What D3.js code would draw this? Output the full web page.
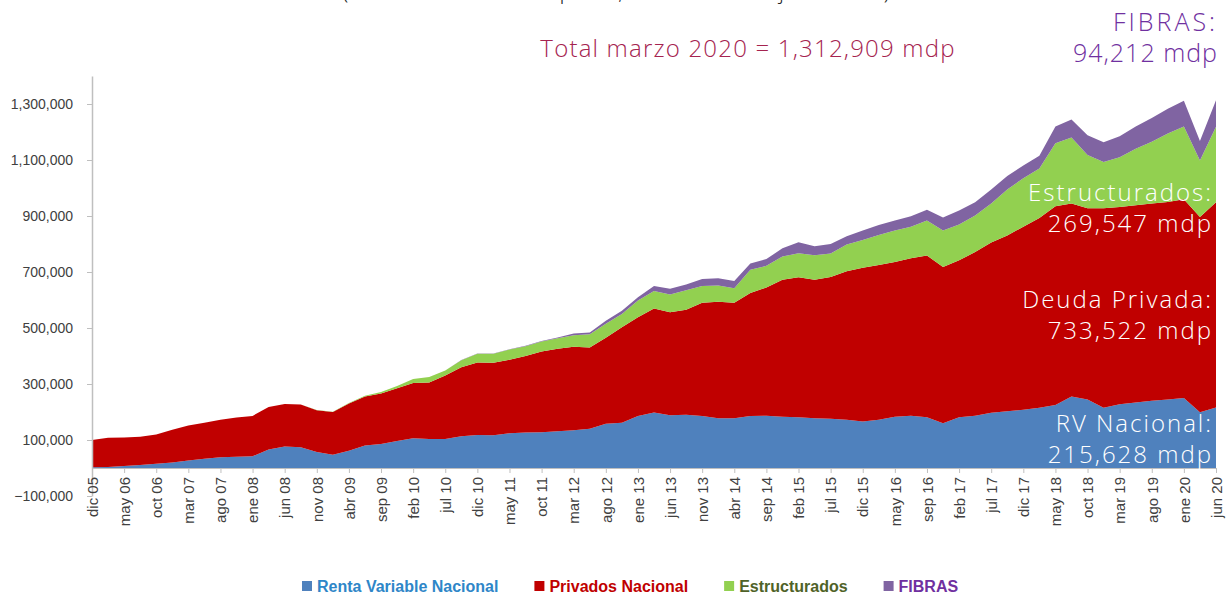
<!DOCTYPE html>
<html>
<head>
<meta charset="utf-8">
<script src="https://cdn.jsdelivr.net/npm/d3@7"></script>
<style>
body { margin: 0; background: #fff; overflow: hidden; }
</style>
</head>
<body>
<div id="chart"></div>
<script>
// category axis labels, one every 5 months
const tickLabels = ["dic 05", "may 06", "oct 06", "mar 07", "ago 07", "ene 08", "jun 08", "nov 08", "abr 09", "sep 09",
    "feb 10", "jul 10", "dic 10", "may 11", "oct 11", "mar 12", "ago 12", "ene 13", "jun 13", "nov 13",
    "abr 14", "sep 14", "feb 15", "jul 15", "dic 15", "may 16", "sep 16", "feb 17", "jul 17", "dic 17",
    "may 18", "oct 18", "mar 19", "ago 19", "ene 20", "jun 20"];

// values in thousands of mdp, read twice per label interval
const rentaVariable = [3, 4, 7, 11, 15, 20, 27, 33, 38, 40,
    42, 66, 77, 74, 57, 47, 62, 80, 86, 96,
    106, 104, 104, 113, 118, 117, 124, 127, 128, 131,
    135, 140, 158, 162, 186, 198, 188, 190, 186, 178,
    178, 186, 187, 183, 181, 178, 176, 172, 166, 172,
    183, 187, 181, 160, 181, 187, 197, 203, 208, 215,
    225, 255, 245, 215, 228, 234, 240, 245, 250, 199,
    216];
const privados = [97, 104, 102, 101, 105, 117, 125, 129, 134, 140,
    144, 152, 152, 153, 149, 153, 168, 175, 180, 189,
    198, 201, 226, 247, 259, 259, 263, 273, 288, 295,
    298, 290, 307, 341, 352, 372, 368, 375, 404, 416,
    412, 439, 458, 489, 500, 494, 506, 531, 549, 553,
    553, 562, 578, 558, 561, 584, 608, 627, 654, 678,
    710, 690, 683, 713, 704, 704, 705, 705, 710, 697,
    733];
const estructurados = [0, 0, 0, 0, 0, 0, 0, 0, 0, 0,
    0, 0, 0, 0, 1, 1, 2, 3, 5, 8,
    14, 20, 18, 25, 31, 32, 36, 35, 36, 37,
    41, 48, 50, 47, 60, 62, 64, 70, 60, 58,
    52, 83, 77, 83, 86, 88, 84, 95, 99, 107,
    112, 113, 125, 130, 128, 131, 140, 165, 173, 177,
    225, 235, 190, 165, 178, 202, 220, 245, 260, 202,
    270];
const fibras = [0, 0, 0, 0, 0, 0, 0, 0, 0, 0,
    0, 0, 0, 0, 0, 0, 0, 0, 0, 0,
    0, 0, 0, 1, 1, 1, 1, 2, 2, 3,
    6, 6, 11, 12, 12, 18, 20, 20, 25, 26,
    26, 22, 24, 30, 39, 32, 34, 30, 34, 36,
    36, 37, 38, 47, 50, 47, 50, 48, 45, 45,
    60, 65, 70, 70, 75, 80, 85, 88, 92, 70,
    94];

const seriesNames = ["Renta Variable Nacional", "Privados Nacional", "Estructurados", "FIBRAS"];
const seriesColors = ["#4F81BD", "#C00000", "#92D050", "#8064A2"];
const legendTextColors = ["#2E86C8", "#C00000", "#4F6228", "#7030A0"];

const width = 1226, height = 595;

const svg = d3.select("#chart")
    .append("svg")
    .attr("width", width)
    .attr("height", height)
    .style("display", "block")
    .style("font-family", "'Liberation Sans', Arial, sans-serif");

// build the table for the stack
const keys = ["rv", "priv", "est", "fib"];
const table = rentaVariable.map((v, i) => ({
    i: i, rv: v, priv: privados[i], est: estructurados[i], fib: fibras[i]
}));
const stacked = d3.stack().keys(keys)(table);

const x = d3.scaleLinear().domain([0, rentaVariable.length - 1]).range([92, 1216]);
const y = d3.scaleLinear().domain([-100, 1400]).range([496, 76]);

const area = d3.area()
    .x(d => x(d.data.i))
    .y0(d => y(d[0]))
    .y1(d => y(d[1]))
    .curve(d3.curveLinear);

svg.append("g").selectAll("path")
    .data(stacked)
    .join("path")
    .attr("fill", (d, i) => seriesColors[i])
    .attr("d", area);

// y axis
const yAxis = svg.append("g")
    .attr("transform", "translate(92,0)")
    .call(d3.axisLeft(y)
        .tickValues(d3.range(-100, 1301, 200))
        .tickFormat(d => d3.format(",")(d * 1000))
        .tickSize(5)
        .tickSizeOuter(0));
yAxis.select(".domain").attr("stroke", "#BFBFBF").attr("stroke-width", 1.5);
yAxis.selectAll(".tick line").attr("stroke", "#BFBFBF");
yAxis.selectAll(".tick text")
    .attr("x", -19)
    .attr("fill", "#404040")
    .style("font-size", "14px");

// x axis at zero
const xAxis = svg.append("g")
    .attr("transform", `translate(0,${y(0)})`)
    .call(d3.axisBottom(x)
        .tickValues(d3.range(0, rentaVariable.length, 2))
        .tickFormat(i => tickLabels[i / 2])
        .tickSize(5)
        .tickSizeOuter(0));
xAxis.select(".domain").attr("stroke", "#BFBFBF");
xAxis.selectAll(".tick line").attr("stroke", "#BFBFBF");
xAxis.selectAll(".tick text")
    .attr("transform", "rotate(-90)")
    .attr("text-anchor", "end")
    .attr("x", -9)
    .attr("y", 0)
    .attr("dy", "0.35em")
    .attr("fill", "#404040")
    .style("font-size", "15px");

// clipped subtitle at the very top
svg.append("text")
    .attr("x", 616)
    .attr("y", -1)
    .attr("text-anchor", "middle")
    .attr("fill", "#222")
    .style("font-family", "'Open Sans', sans-serif")
    .style("font-weight", 300)
    .style("font-size", "22px")
    .text("(Cifras en millones de pesos, datos diarios a junio 2020)");

// annotations
const annFont = "'Open Sans', Lato, sans-serif";
svg.append("text")
    .attr("x", 748).attr("y", 57)
    .attr("text-anchor", "middle")
    .attr("fill", "#A5234F")
    .style("font-family", annFont)
    .style("font-weight", 300)
    .style("font-size", "24px")
    .style("letter-spacing", "1.2px")
    .text("Total marzo 2020 = 1,312,909 mdp");

const topRight = [
    { text: "FIBRAS:", y: 31, spacing: 3 },
    { text: "94,212 mdp", y: 62, spacing: 1 }
];
topRight.forEach(t => {
    svg.append("text")
        .attr("x", 1218).attr("y", t.y)
        .attr("text-anchor", "end")
        .attr("fill", "#7030A0")
        .style("font-family", annFont)
        .style("font-weight", 300)
        .style("font-size", "25px")
        .style("letter-spacing", t.spacing + "px")
        .text(t.text);
});

const inside = [
    { text: "Estructurados:", y: 201 },
    { text: "269,547 mdp", y: 232 },
    { text: "Deuda Privada:", y: 308 },
    { text: "733,522 mdp", y: 339 },
    { text: "RV Nacional:", y: 432 },
    { text: "215,628 mdp", y: 463 }
];
inside.forEach(t => {
    svg.append("text")
        .attr("x", 1213).attr("y", t.y)
        .attr("text-anchor", "end")
        .attr("fill", "#fff")
        .style("font-family", annFont)
        .style("font-weight", 300)
        .style("font-size", "24px")
        .style("letter-spacing", "2px")
        .text(t.text);
});

// legend
const legend = svg.append("g").attr("transform", "translate(0,586)");
let lx = 302;
seriesNames.forEach((name, i) => {
    legend.append("rect")
        .attr("x", lx).attr("y", -5)
        .attr("width", 10).attr("height", 10)
        .attr("fill", seriesColors[i]);
    const t = legend.append("text")
        .attr("x", lx + 15).attr("y", 0)
        .attr("dy", "0.35em")
        .attr("fill", legendTextColors[i])
        .style("font-size", "16px")
        .style("font-weight", "bold")
        .text(name);
    lx += 15 + t.node().getComputedTextLength() + 36;
});
</script>
</body>
</html>
